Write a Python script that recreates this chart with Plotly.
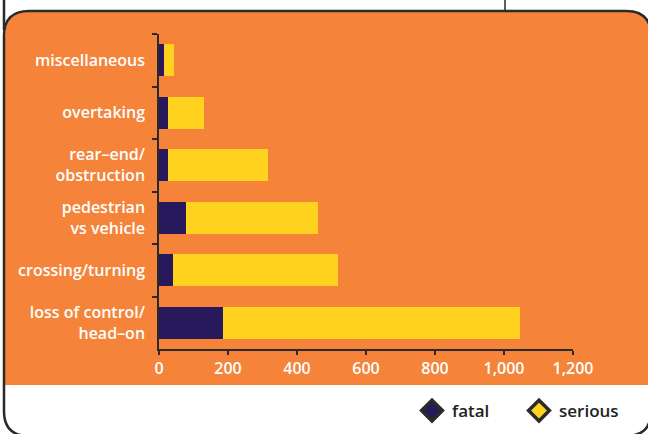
import plotly.graph_objects as go

categories = ["miscellaneous", "overtaking", "rear–end/<br>obstruction",
              "pedestrian<br>vs vehicle", "crossing/turning",
              "loss of control/<br>head–on"]
fatal = [15, 26, 26, 78, 41, 186]
serious = [29, 105, 290, 383, 478, 861]
x_ticks = [0, 200, 400, 600, 800, 1000, 1200]

W, H = 648, 434
L_, R_, T_, B_ = 159, 573, 34, 349  # plot area in pixels

ORANGE = "#F5843A"
NAVY = "#27195C"
YELLOW = "#FFD21F"
DARK = "#2a2a2a"


def px(x):
    return (x - L_) / (R_ - L_)


def py(y):
    return (B_ - y) / (B_ - T_)


def P(x, y):
    return f"{px(x):.5f},{py(y):.5f}"


def rounded(l, t, r, b, rad, round_bottom=True):
    s = f"M {P(l, t + rad)} Q {P(l, t)} {P(l + rad, t)} L {P(r - rad, t)} Q {P(r, t)} {P(r, t + rad)} "
    if round_bottom:
        s += f"L {P(r, b - rad)} Q {P(r, b)} {P(r - rad, b)} L {P(l + rad, b)} Q {P(l, b)} {P(l, b - rad)} Z"
    else:
        s += f"L {P(r, b)} L {P(l, b)} Z"
    return s


TICKFONT = dict(family="Open Sans", color="white", size=16, weight=600)

fig = go.Figure()
fig.add_trace(go.Bar(y=categories, x=fatal, orientation="h", marker_color=NAVY,
                     marker_line_width=0, showlegend=False, name="fatal"))
fig.add_trace(go.Bar(y=categories, x=serious, orientation="h", marker_color=YELLOW,
                     marker_line_width=0, showlegend=False, name="serious"))
# legend entries with diamond symbols
fig.add_trace(go.Scatter(x=[None], y=[None], mode="markers", name="fatal",
                         marker=dict(symbol="diamond", size=18, color=NAVY,
                                     line=dict(color=DARK, width=3.5))))
fig.add_trace(go.Scatter(x=[None], y=[None], mode="markers", name="serious",
                         marker=dict(symbol="diamond", size=18, color=YELLOW,
                                     line=dict(color=DARK, width=3.5))))

shapes = [
    dict(type="path", xref="paper", yref="paper", layer="below",
         path=rounded(5, 11, 652, 385, 25, round_bottom=False),
         fillcolor=ORANGE, line=dict(width=0)),
    dict(type="path", xref="paper", yref="paper", layer="below",
         path=rounded(4, 11, 651, 436, 25),
         fillcolor="rgba(0,0,0,0)", line=dict(color=DARK, width=2.5)),
    dict(type="line", xref="paper", yref="paper", layer="below",
         x0=px(4), x1=px(4), y0=py(-2), y1=py(30), line=dict(color=DARK, width=2.5)),
    dict(type="line", xref="paper", yref="paper", layer="below",
         x0=px(505), x1=px(505), y0=py(-2), y1=py(11), line=dict(color=DARK, width=1.5)),
]

fig.update_layout(
    width=W, height=H,
    margin=dict(l=L_, r=W - R_, t=T_, b=H - B_, autoexpand=False),
    paper_bgcolor="white", plot_bgcolor="rgba(0,0,0,0)",
    barmode="stack", bargap=0.39,
    font=dict(family="Open Sans", size=16, color="white"),
    shapes=shapes,
    showlegend=True,
    legend=dict(orientation="h", x=px(412), xanchor="left", y=py(411), yanchor="middle",
                font=dict(color="#222", size=17, weight=600), bgcolor="rgba(0,0,0,0)",
                itemwidth=30, traceorder="normal", entrywidth=62),
    xaxis=dict(range=[0, 1200], tickvals=x_ticks, tickformat=",d",
               showline=True, linecolor=DARK, linewidth=1.5,
               ticks="outside", ticklen=4, tickcolor=DARK, tickwidth=1.5,
               showgrid=False, zeroline=False,
               tickfont=TICKFONT),
    yaxis=dict(autorange="reversed", showline=True, linecolor=DARK, linewidth=1.5,
               ticks="outside", ticklen=5, tickcolor=DARK, tickwidth=1.5,
               tickson="boundaries", showgrid=False, ticklabelstandoff=9,
               tickfont=TICKFONT),
)

fig.write_html("out.html")
